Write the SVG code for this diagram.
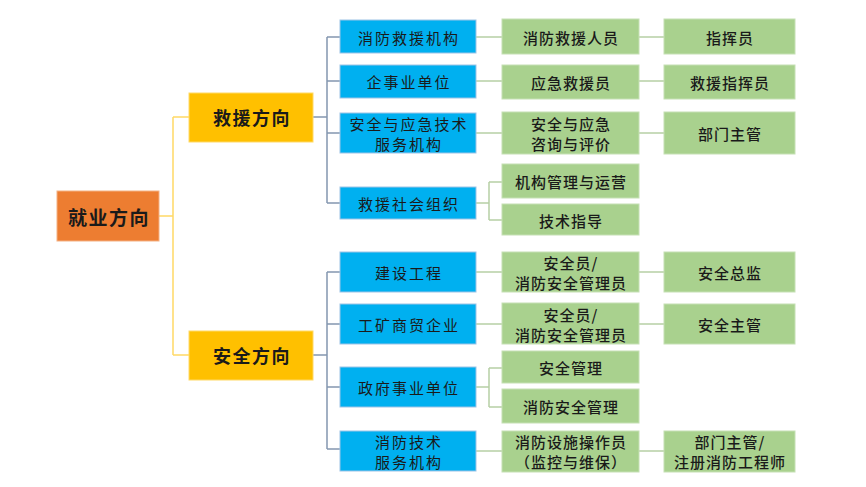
<svg xmlns="http://www.w3.org/2000/svg" width="866" height="487" viewBox="0 0 866 487">
<style>
text{font-family:"Noto Sans CJK SC","Noto Sans",sans-serif;text-anchor:middle;dominant-baseline:central;fill:#1a1a1a}
.root rect{fill:#ED7D31;stroke:#F4B183;stroke-width:1}
.root text{font-size:19px;font-weight:700;letter-spacing:1.5px}
.l1 rect{fill:#FFC000;stroke:#FFD966;stroke-width:1}
.l1 text{font-size:18px;font-weight:700;letter-spacing:1.5px}
.l2 rect{fill:#00B0F0;stroke:#9DC3E6;stroke-width:1}
.l2 text{font-size:15px;letter-spacing:2px}
.l3 rect{fill:#A9D18E;stroke:#C5E0B4;stroke-width:1}
.l3 text{font-size:15px;font-weight:500;letter-spacing:1px}
.cy{fill:none;stroke:#FFD966;stroke-width:1.5}
.cb{fill:none;stroke:#8497B0;stroke-width:1.5}
.cg{fill:none;stroke:#B7CFA5;stroke-width:1.5}
</style>
<g id="connectors">
<path class="cy" d="M159 216H173M173 117V355M173 117H189M173 355H189"/>
<path class="cb" d="M313 117H327M327 37V203M327 37H340M327 81H340M327 133H340M327 203H340"/>
<path class="cb" d="M313 355H327M327 272V449M327 272H340M327 324H340M327 387H340M327 449H340"/>
<path class="cg" d="M476 37H502M476 81H502M476 133H502M476 203H489M489 182V220M489 182H502M489 220H502"/>
<path class="cg" d="M639 37H664M639 81H664M639 133H664"/>
<path class="cg" d="M476 272H502M476 324H502M476 387H489M489 368V407M489 368H502M489 407H502M476 451H502"/>
<path class="cg" d="M639 272H664M639 324H664M639 451H664"/>
</g>
<g id="n-root" class="root"><rect x="57" y="191" width="102" height="50"/><text x="109" y="216">就业方向</text></g>
<g id="n-jiuyuan" class="l1"><rect x="189" y="93" width="124" height="49"/><text x="252" y="117">救援方向</text></g>
<g id="n-anquan" class="l1"><rect x="189" y="331" width="124" height="49"/><text x="252" y="355">安全方向</text></g>

<g id="n-xfjyjg" class="l2"><rect x="340" y="20" width="136" height="33"/><text x="409" y="37">消防救援机构</text></g>
<g id="n-qsydw" class="l2"><rect x="340" y="65" width="136" height="33"/><text x="409" y="81">企事业单位</text></g>
<g id="n-aqyyjjs" class="l2"><rect x="340" y="113" width="136" height="40"/><text x="409" y="123">安全与应急技术</text><text x="409" y="143">服务机构</text></g>
<g id="n-jyshzz" class="l2"><rect x="340" y="187" width="136" height="32"/><text x="409" y="203">救援社会组织</text></g>

<g id="n-xfjyry" class="l3"><rect x="502" y="19" width="137" height="35"/><text x="571" y="37">消防救援人员</text></g>
<g id="n-yjjyy" class="l3"><rect x="502" y="65" width="137" height="34"/><text x="571" y="82">应急救援员</text></g>
<g id="n-aqyyjzx" class="l3"><rect x="502" y="112" width="137" height="42"/><text x="571" y="123">安全与应急</text><text x="571" y="143">咨询与评价</text></g>
<g id="n-jgglyy" class="l3"><rect x="502" y="164" width="137" height="34"/><text x="571" y="181">机构管理与运营</text></g>
<g id="n-jszd" class="l3"><rect x="502" y="204" width="137" height="31"/><text x="571" y="220">技术指导</text></g>

<g id="n-zhy" class="l3"><rect x="664" y="19" width="131" height="35"/><text x="730" y="37">指挥员</text></g>
<g id="n-jyzhy" class="l3"><rect x="664" y="65" width="131" height="34"/><text x="730" y="82">救援指挥员</text></g>
<g id="n-bmzg1" class="l3"><rect x="664" y="112" width="131" height="42"/><text x="730" y="133">部门主管</text></g>

<g id="n-jsgc" class="l2"><rect x="340" y="252" width="136" height="40"/><text x="409" y="272">建设工程</text></g>
<g id="n-gksmqy" class="l2"><rect x="340" y="304" width="136" height="40"/><text x="409" y="324">工矿商贸企业</text></g>
<g id="n-zfsydw" class="l2"><rect x="340" y="367" width="136" height="40"/><text x="409" y="387">政府事业单位</text></g>
<g id="n-xfjsfw" class="l2"><rect x="340" y="431" width="136" height="40"/><text x="409" y="441">消防技术</text><text x="409" y="461">服务机构</text></g>

<g id="n-aqy1" class="l3"><rect x="502" y="252" width="137" height="40"/><text x="571" y="262">安全员/</text><text x="571" y="282">消防安全管理员</text></g>
<g id="n-aqy2" class="l3"><rect x="502" y="303" width="137" height="41"/><text x="571" y="314">安全员/</text><text x="571" y="334">消防安全管理员</text></g>
<g id="n-aqgl" class="l3"><rect x="502" y="351" width="137" height="32"/><text x="571" y="367">安全管理</text></g>
<g id="n-xfaqgl" class="l3"><rect x="502" y="389" width="137" height="34"/><text x="571" y="406">消防安全管理</text></g>
<g id="n-xfsssczy" class="l3"><rect x="502" y="431" width="137" height="41"/><text x="571" y="441">消防设施操作员</text><text x="571" y="461">（监控与维保）</text></g>

<g id="n-aqzj" class="l3"><rect x="664" y="252" width="131" height="40"/><text x="730" y="272">安全总监</text></g>
<g id="n-aqzg" class="l3"><rect x="664" y="304" width="131" height="40"/><text x="730" y="324">安全主管</text></g>
<g id="n-bmzg2" class="l3"><rect x="664" y="431" width="131" height="41"/><text x="730" y="441">部门主管/</text><text x="730" y="461">注册消防工程师</text></g>
</svg>
